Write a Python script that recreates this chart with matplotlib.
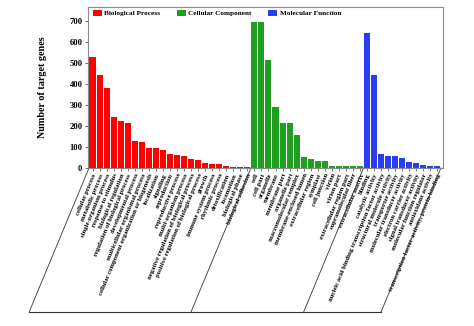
import numpy as np
import matplotlib
matplotlib.use("Agg")
import matplotlib.pyplot as plt
from matplotlib.patches import Patch
import matplotlib.transforms as mtransforms

plt.rcParams['font.family'] = ['Liberation Serif', 'DejaVu Serif']
plt.rcParams['font.weight'] = 'bold'

bp_terms = [
    "cellular process", "metabolic process", "single-organism process",
    "response to stimulus", "biological regulation",
    "regulation of biological process", "developmental process",
    "multicellular organismal process",
    "cellular component organization or biogenesis", "localization",
    "signaling", "reproduction", "reproductive process",
    "multi-organism process", "negative regulation of biological process",
    "positive regulation of biological process", "growth",
    "immune system process", "rhythmic process", "detoxification",
    "locomotion", "biological phase", "biological adhesion",
]
bp_counts = [528, 443, 379, 241, 222, 214, 129, 125, 97, 97, 84, 65, 63, 59,
             41, 38, 22, 21, 19, 8, 7, 6, 5]

cc_terms = [
    "cell", "cell part", "organelle", "membrane", "membrane part",
    "organelle part", "macromolecular complex", "membrane-enclosed lumen",
    "extracellular region", "symplast", "cell junction", "virion",
    "virion part", "extracellular region part", "supramolecular fiber",
    "extracellular matrix",
]
cc_counts = [694, 694, 514, 292, 214, 213, 159, 52, 41, 32, 32, 10, 10, 10,
             10, 9]

mf_terms = [
    "binding", "catalytic activity",
    "nucleic acid binding transcription factor activity",
    "structural molecule activity", "transporter activity",
    "molecular transducer activity", "electron carrier activity",
    "signal transducer activity", "molecular function regulator",
    "antioxidant activity", "transcription factor activity, protein binding",
]
mf_counts = [641, 443, 67, 57, 56, 48, 30, 25, 16, 11, 9]

groups = ["Biological Process", "Cellular Component", "Molecular Function"]
colors = ["#ff0000", "#1f9f1f", "#2a3cf4"]

terms = [bp_terms, cc_terms, mf_terms]
counts = [bp_counts, cc_counts, mf_counts]

fig = plt.figure(figsize=(4.74, 3.26), dpi=100)
ax = fig.add_axes([0.1857, 0.4847, 0.7489, 0.4938])

start = 0
bounds = [-0.5]
all_labels = []
for name, t, c, col in zip(groups, terms, counts, colors):
    x = np.arange(start, start + len(c))
    ax.bar(x, c, width=0.86, color=col, label=name)
    all_labels += t
    start += len(c)
    bounds.append(start - 0.5)

n = start
ax.set_xlim(-0.64, n - 0.2)
ax.set_ylim(0, 767)
ax.set_yticks(range(0, 701, 100))
ax.tick_params(axis='y', labelsize=6.2, length=2, width=0.6, pad=2, color='#555555')
for lab in ax.get_yticklabels():
    lab.set_fontweight('bold')
ax.set_ylabel("Number of target genes", fontsize=7.3, fontweight='bold', labelpad=16)

ax.set_xticks(np.arange(n))
ax.set_xticklabels(all_labels, rotation=67.4, ha='right', va='top',
                   rotation_mode='anchor', fontsize=4.8, fontweight='bold')
ax.tick_params(axis='x', length=2, width=0.5, pad=1.5, color='#444444')

for s in ax.spines.values():
    s.set_color('#8a8a8a')
    s.set_linewidth(0.8)

# group brackets below the labels
trans = mtransforms.blended_transform_factory(ax.transData, ax.transAxes)
drop = -0.894
shift = 8.5
for b in bounds:
    ax.plot([b, b - shift], [0, drop], color='#333333', lw=0.6,
            transform=trans, clip_on=False)
ax.plot([bounds[0] - shift, bounds[-1] - shift], [drop, drop],
        color='#333333', lw=0.8, transform=trans, clip_on=False)

handles = [Patch(facecolor=c, edgecolor='none', label=g) for g, c in zip(groups, colors)]
ax.legend(handles=handles, loc='upper left', bbox_to_anchor=(0.0, 1.01), ncol=3,
          frameon=False, handlelength=1.25, handleheight=0.85,
          handletextpad=0.35, columnspacing=2.3, borderaxespad=0.25,
          prop={'weight': 'bold', 'size': 5.2})

fig.savefig("out.png", dpi=100)
